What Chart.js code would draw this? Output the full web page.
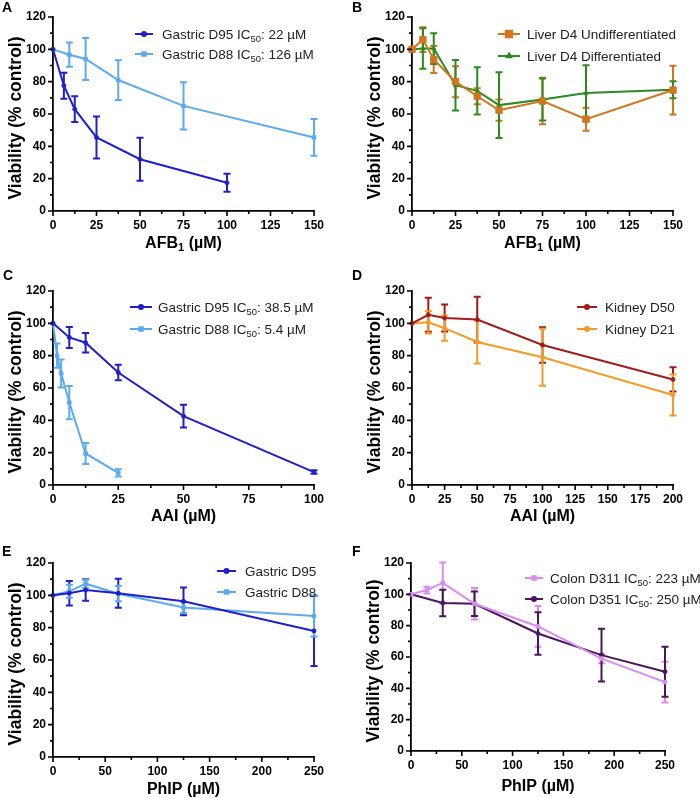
<!DOCTYPE html>
<html>
<head>
<meta charset="utf-8">
<script src="https://cdn.jsdelivr.net/npm/chart.js@4.4.1/dist/chart.umd.min.js"></script>
<style>
  body { margin: 0; background: #fff; }
  #fig { position: relative; width: 700px; height: 798px; overflow: hidden; }
  .panel { position: absolute; }
  canvas { display: block; }
</style>
</head>
<body>
<div id="fig">
  <div class="panel" style="left:0;top:0"><canvas id="chartA" width="350" height="260"></canvas></div>
  <div class="panel" style="left:350px;top:0"><canvas id="chartB" width="350" height="260"></canvas></div>
  <div class="panel" style="left:0;top:520px"><canvas id="chartE" width="350" height="278"></canvas></div>
  <div class="panel" style="left:350px;top:520px"><canvas id="chartF" width="350" height="278"></canvas></div>
  <div class="panel" style="left:0;top:260px"><canvas id="chartC" width="350" height="272"></canvas></div>
  <div class="panel" style="left:350px;top:260px"><canvas id="chartD" width="350" height="272"></canvas></div>
</div>
<script>
const FONT = '"Liberation Sans", Arial, Helvetica, sans-serif';

// y axis (all panels)
const yMax = 120;
const yStep = 20;

// A - AFB1, gastric
const aD95Dose = [0, 6.25, 12.5, 25, 50, 100];
const aD95Mean = [100, 77.5, 63, 45.5, 32, 17.5];
const aD95Sd   = [0, 8, 8, 13, 13.3, 5.6];
const aD88Dose = [0, 9.375, 18.75, 37.5, 75, 150];
const aD88Mean = [100, 96.7, 94, 81, 65, 45.5];
const aD88Sd   = [0, 7.5, 13, 12.3, 14.6, 11.4];

// B - AFB1, liver
const bDose       = [0, 6.25, 12.5, 25, 37.5, 50, 75, 100, 150];
const bUndiffMean = [100, 106, 93.7, 80, 71, 62.4, 68, 56.8, 74.8];
const bUndiffSd   = [0, 7.7, 8.3, 9.6, 5, 6.5, 14.4, 7.1, 15.1];
const bDiffMean   = [100, 100.5, 100.5, 77.8, 74.3, 65.5, 69, 73, 75];
const bDiffSd     = [0, 12.5, 9.5, 15.6, 14.6, 20.4, 13, 17.1, 5.2];

// C - AAI, gastric
const cD95Dose = [0, 6.25, 12.5, 25, 50, 100];
const cD95Mean = [100, 91.3, 88, 69.6, 42.6, 8];
const cD95Sd   = [0, 6.5, 6, 4.8, 7.1, 1.1];
const cD88Dose = [0, 1.5625, 3.125, 6.25, 12.5, 25];
const cD88Mean = [100, 80, 69, 51, 19.5, 7.5];
const cD88Sd   = [0, 7.5, 8.7, 10.3, 6.5, 2.3];

// D - AAI, kidney
const dDose    = [0, 12.5, 25, 50, 100, 200];
const dD50Mean = [100, 105.3, 103.3, 102.3, 86.6, 65.3];
const dD50Sd   = [0, 10.5, 8.4, 14.2, 11, 7.5];
const dD21Mean = [100, 100.6, 97, 88.5, 79, 55.7];
const dD21Sd   = [0, 6.9, 7.8, 13.3, 17.6, 12.7];

// E - PhIP, gastric
const eDose    = [0, 15.625, 31.25, 62.5, 125, 250];
const eD95Mean = [100, 101.3, 103.3, 101.3, 96.3, 78];
const eD95Sd   = [0, 7.6, 6.7, 9, 8.6, 21.7];
const eD88Mean = [100, 102.5, 107.2, 101, 92.5, 87.2];
const eD88Sd   = [0, 4, 2.5, 4.7, 3.5, 12.6];

// F - PhIP, colon
const fD311Dose = [0, 15.625, 31.25, 62.5, 125, 187.5, 250];
const fD311Mean = [100, 102.7, 107.3, 94, 79.5, 59, 44];
const fD311Sd   = [0, 2.2, 13, 10, 13, 3, 13];
const fD351Dose = [0, 31.25, 62.5, 125, 187.5, 250];
const fD351Mean = [100, 94.5, 94, 75, 61.2, 50.6];
const fD351Sd   = [0, 8.5, 7.8, 13.5, 16.8, 16];

const darkBlue = '#1f1fcc';
const lightBlue = '#5caaef';

// text with _{..} as subscript
function splitRich(str) {
  const out = [];
  str.split(/(_\{[^}]*\})/).forEach(p => {
    if (!p) return;
    if (p.startsWith('_{')) out.push({ t: p.slice(2, -1), sub: true });
    else out.push({ t: p, sub: false });
  });
  return out;
}

function drawRich(ctx, str, x, y, size, weight, align) {
  const ps = splitRich(str);
  const fnt = s => `${weight} ${s}px ${FONT}`;
  let w = 0;
  ps.forEach(p => {
    ctx.font = fnt(p.sub ? size * 0.7 : size);
    p.w = ctx.measureText(p.t).width;
    w += p.w;
  });
  let cx = align === 'center' ? x - w / 2 : x;
  ctx.textAlign = 'left';
  ctx.textBaseline = 'alphabetic';
  ps.forEach(p => {
    ctx.font = fnt(p.sub ? size * 0.7 : size);
    ctx.fillText(p.t, cx, y + (p.sub ? size * 0.22 : 0));
    cx += p.w;
  });
}

function decor(cfg) {
  return {
    id: 'decor',
    beforeDatasetsDraw(chart) {
      const { ctx } = chart;
      const ys = chart.scales.y;
      ctx.save();
      ctx.lineWidth = 2;
      cfg.series.forEach((s, di) => {
        const meta = chart.getDatasetMeta(di);
        ctx.strokeStyle = s.color;
        meta.data.forEach((pt, i) => {
          const sd = s.sd[i];
          if (!sd) return;
          const top = ys.getPixelForValue(s.mean[i] + sd);
          const bot = ys.getPixelForValue(s.mean[i] - sd);
          ctx.beginPath();
          ctx.moveTo(pt.x, top); ctx.lineTo(pt.x, bot);
          ctx.moveTo(pt.x - 3.5, top); ctx.lineTo(pt.x + 3.5, top);
          ctx.moveTo(pt.x - 3.5, bot); ctx.lineTo(pt.x + 3.5, bot);
          ctx.stroke();
        });
      });
      ctx.restore();
    },
    afterDraw(chart) {
      const { ctx, chartArea } = chart;
      const xs = chart.scales.x, ys = chart.scales.y;
      ctx.save();
      ctx.strokeStyle = '#000';
      ctx.lineWidth = 1.6;
      ctx.beginPath();
      const xv = xs.ticks.map(t => t.value);
      xv.forEach((v, i) => {
        const px = xs.getPixelForValue(v);
        ctx.moveTo(px, chartArea.bottom); ctx.lineTo(px, chartArea.bottom + 5);
        if (i < xv.length - 1) {
          const m = xs.getPixelForValue((v + xv[i + 1]) / 2);
          ctx.moveTo(m, chartArea.bottom); ctx.lineTo(m, chartArea.bottom + 3);
        }
      });
      const yv = ys.ticks.map(t => t.value);
      yv.forEach((v, i) => {
        const py = ys.getPixelForValue(v);
        ctx.moveTo(chartArea.left, py); ctx.lineTo(chartArea.left - 5, py);
        if (i < yv.length - 1) {
          const m = ys.getPixelForValue((v + yv[i + 1]) / 2);
          ctx.moveTo(chartArea.left, m); ctx.lineTo(chartArea.left - 3, m);
        }
      });
      ctx.stroke();

      // axis titles
      ctx.fillStyle = '#000';
      drawRich(ctx, cfg.xTitle, (chartArea.left + chartArea.right) / 2, cfg.xTitleY + 5.5, 16, 'bold', 'center');
      ctx.save();
      ctx.translate(cfg.yTitleX, (chartArea.top + chartArea.bottom) / 2 + 4);
      ctx.rotate(-Math.PI / 2);
      drawRich(ctx, 'Viability (% control)', 0, 6, 17.5, 'bold', 'center');
      ctx.restore();

      // panel letter
      ctx.font = `bold 14px ${FONT}`;
      ctx.textAlign = 'left';
      ctx.textBaseline = 'middle';
      ctx.fillText(cfg.letter, cfg.letterPos[0], cfg.letterPos[1]);

      // legend
      const lg = cfg.legend;
      cfg.series.forEach((s, i) => {
        const y = lg.rows[i];
        ctx.strokeStyle = s.color;
        ctx.fillStyle = s.color;
        ctx.lineWidth = 2;
        ctx.beginPath();
        ctx.moveTo(lg.x0, y); ctx.lineTo(lg.x1, y);
        ctx.stroke();
        Chart.helpers.drawPoint(ctx, { pointStyle: s.marker, radius: s.radius, rotation: 0, borderWidth: 1 }, (lg.x0 + lg.x1) / 2, y);
        ctx.fillStyle = '#222';
        drawRich(ctx, s.label, lg.tx, y + 5, 13.5, 'normal', 'left');
      });
      ctx.restore();
    }
  };
}

function makePanel(id, cfg) {
  const canvas = document.getElementById(id);
  const W = canvas.width, H = canvas.height;
  const a = cfg.area;
  const tickFont = { family: FONT, size: 12, weight: 'bold' };
  new Chart(canvas, {
    type: 'line',
    data: {
      datasets: cfg.series.map(s => ({
        label: s.label,
        data: s.dose.map((d, i) => ({ x: d, y: s.mean[i] })),
        borderColor: s.color,
        backgroundColor: s.color,
        borderWidth: 2,
        pointStyle: s.marker,
        pointRadius: s.radius,
        pointHoverRadius: s.radius,
        pointBorderWidth: 1,
        tension: 0,
        fill: false,
        clip: false
      }))
    },
    options: {
      responsive: false,
      animation: false,
      events: [],
      layout: { padding: { top: a.top, right: W - a.right, left: 0, bottom: 0 } },
      plugins: { legend: { display: false }, tooltip: { enabled: false } },
      scales: {
        x: {
          type: 'linear',
          min: 0,
          max: cfg.xMax,
          afterFit: s => { s.height = H - a.bottom; },
          grid: { display: false, drawTicks: false },
          border: { display: true, color: '#000', width: 1.8 },
          ticks: { stepSize: cfg.xStep, color: '#000', font: tickFont, padding: 7, maxRotation: 0 }
        },
        y: {
          min: 0,
          max: yMax,
          afterFit: s => { s.width = a.left; },
          grid: { display: false, drawTicks: false },
          border: { display: true, color: '#000', width: 1.8 },
          ticks: { stepSize: yStep, color: '#000', font: tickFont, padding: 7 }
        }
      }
    },
    plugins: [decor(cfg)]
  });
}

makePanel('chartA', {
  letter: 'A', letterPos: [2, 8],
  area: { left: 53, right: 314, top: 17, bottom: 211 },
  xMax: 150, xStep: 25, xTitle: 'AFB_{1} (µM)', xTitleY: 242, yTitleX: 15,
  legend: { x0: 135, x1: 153, tx: 162, rows: [34, 54] },
  series: [
    { label: 'Gastric D95 IC_{50}: 22 µM', dose: aD95Dose, mean: aD95Mean, sd: aD95Sd, color: darkBlue, marker: 'circle', radius: 2 },
    { label: 'Gastric D88 IC_{50}: 126 µM', dose: aD88Dose, mean: aD88Mean, sd: aD88Sd, color: lightBlue, marker: 'rect', radius: 2.5 }
  ]
});

makePanel('chartB', {
  letter: 'B', letterPos: [2, 8],
  area: { left: 62, right: 323, top: 17, bottom: 211 },
  xMax: 150, xStep: 25, xTitle: 'AFB_{1} (µM)', xTitleY: 242, yTitleX: 24,
  legend: { x0: 148, x1: 170, tx: 177, rows: [34, 56] },
  series: [
    { label: 'Liver D4 Undifferentiated', dose: bDose, mean: bUndiffMean, sd: bUndiffSd, color: '#d2761e', marker: 'rect', radius: 4.5 },
    { label: 'Liver D4 Differentiated', dose: bDose, mean: bDiffMean, sd: bDiffSd, color: '#2b8a20', marker: 'triangle', radius: 2.5 }
  ]
});

makePanel('chartC', {
  letter: 'C', letterPos: [3, 16],
  area: { left: 53, right: 314, top: 31, bottom: 225 },
  xMax: 100, xStep: 25, xTitle: 'AAI (µM)', xTitleY: 255, yTitleX: 15,
  legend: { x0: 130, x1: 152, tx: 158, rows: [47, 69] },
  series: [
    { label: 'Gastric D95 IC_{50}: 38.5 µM', dose: cD95Dose, mean: cD95Mean, sd: cD95Sd, color: darkBlue, marker: 'circle', radius: 2 },
    { label: 'Gastric D88 IC_{50}: 5.4 µM', dose: cD88Dose, mean: cD88Mean, sd: cD88Sd, color: lightBlue, marker: 'rect', radius: 2.5 }
  ]
});

makePanel('chartD', {
  letter: 'D', letterPos: [2, 16],
  area: { left: 62, right: 323, top: 31, bottom: 225 },
  xMax: 200, xStep: 25, xTitle: 'AAI (µM)', xTitleY: 255, yTitleX: 24,
  legend: { x0: 227, x1: 247, tx: 255, rows: [47, 69] },
  series: [
    { label: 'Kidney D50', dose: dDose, mean: dD50Mean, sd: dD50Sd, color: '#a31c1c', marker: 'circle', radius: 2 },
    { label: 'Kidney D21', dose: dDose, mean: dD21Mean, sd: dD21Sd, color: '#f39b26', marker: 'circle', radius: 2 }
  ]
});

makePanel('chartE', {
  letter: 'E', letterPos: [2, 32],
  area: { left: 53, right: 314, top: 43, bottom: 237 },
  xMax: 250, xStep: 50, xTitle: 'PhIP (µM)', xTitleY: 268, yTitleX: 15,
  legend: { x0: 217, x1: 236, tx: 245, rows: [51, 72] },
  series: [
    { label: 'Gastric D95', dose: eDose, mean: eD95Mean, sd: eD95Sd, color: darkBlue, marker: 'circle', radius: 2 },
    { label: 'Gastric D88', dose: eDose, mean: eD88Mean, sd: eD88Sd, color: lightBlue, marker: 'rect', radius: 2.5 }
  ]
});

makePanel('chartF', {
  letter: 'F', letterPos: [2, 32],
  area: { left: 61, right: 315, top: 43, bottom: 231 },
  xMax: 250, xStep: 50, xTitle: 'PhIP (µM)', xTitleY: 265, yTitleX: 23,
  legend: { x0: 175, x1: 193, tx: 200, rows: [58, 79] },
  series: [
    { label: 'Colon D311 IC_{50}: 223 µM', dose: fD311Dose, mean: fD311Mean, sd: fD311Sd, color: '#d98cf0', marker: 'rect', radius: 2.5 },
    { label: 'Colon D351 IC_{50}: 250 µM', dose: fD351Dose, mean: fD351Mean, sd: fD351Sd, color: '#4a1559', marker: 'circle', radius: 2 }
  ]
});
</script>
</body>
</html>
